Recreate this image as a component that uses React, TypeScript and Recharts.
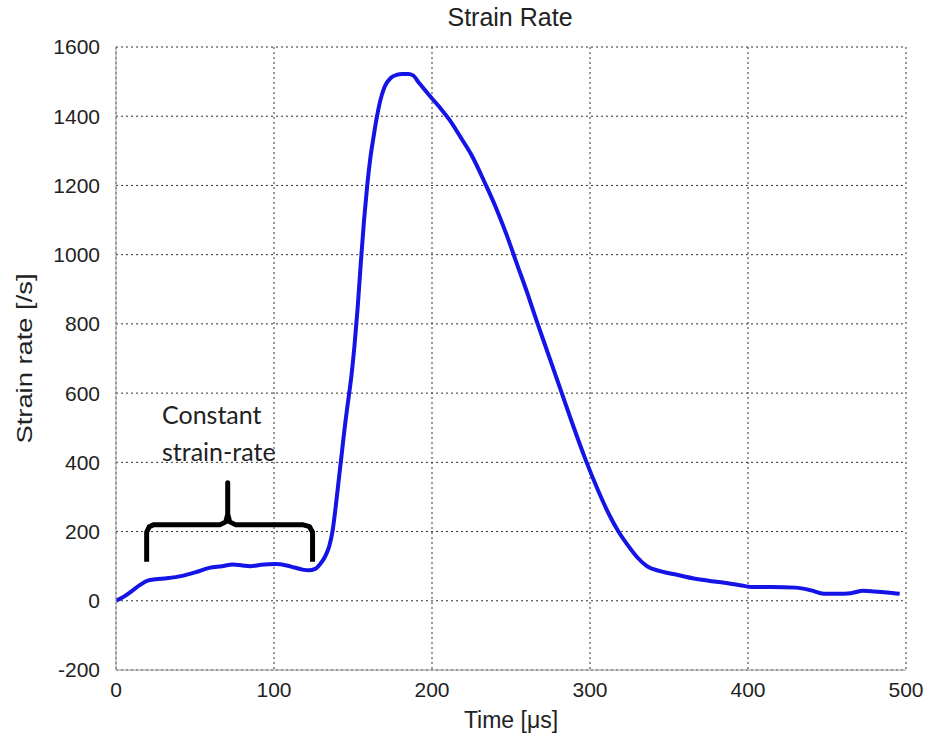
import { LineChart, Line, XAxis, YAxis, CartesianGrid, Label } from 'recharts';

// time axis in microseconds, strain rate in 1/s
const timeUs = [
  0, 5, 10, 15, 20, 25, 32, 42, 50, 59, 67, 74, 80, 85, 92, 101, 108, 113, 118, 122,
  126, 129, 132, 135, 137, 139, 141, 143, 145, 147, 149, 151, 153, 155, 157, 159, 161,
  163, 165, 167, 170, 174, 178, 181, 185, 188, 192, 198, 205, 211, 218, 225, 234, 241,
  247, 254, 261, 265, 273, 281, 289, 297, 305, 312, 318, 324, 330, 336, 345, 355, 365,
  375, 385, 395, 402, 415, 430, 440, 448, 457, 465, 473, 480, 488, 496,
];
const strainRate = [
  0, 12, 28, 45, 58, 62, 65, 72, 82, 95, 100, 105, 102, 100, 104, 106, 102, 96, 90, 88,
  92, 105, 125, 158, 200, 270, 350, 430, 510, 580, 650, 740, 850, 980, 1100, 1200, 1280,
  1340, 1395, 1440, 1485, 1511, 1520, 1522, 1522, 1518, 1495, 1462, 1425, 1390, 1340, 1288,
  1202, 1130, 1060, 970, 880, 825, 720, 615, 510, 410, 320, 250, 200, 160, 125, 100, 85,
  75, 65, 58, 52, 45, 40, 40, 38, 30, 20, 20, 22, 29, 27, 24, 20,
];

// curly brace annotation (data coordinates)
const braceX = [19.4, 19.4, 21, 24, 66, 69.5, 70.7, 70.7, 70.7, 72, 75.5, 118, 122.5, 124.4, 124.4];
const braceY = [113, 198, 214, 220, 220, 228, 250, 341, 250, 228, 220, 220, 214, 198, 113];

const xTicks = [0, 100, 200, 300, 400, 500];
const yTicks = [-200, 0, 200, 400, 600, 800, 1000, 1200, 1400, 1600];

const data = timeUs.map((t, i) => ({ t, rate: strainRate[i] }));
const brace = braceX.map((t, i) => ({ t, b: braceY[i] }));

const font = '"Liberation Sans", Arial, sans-serif';

function YLabel(props: any) {
  const vb = props.viewBox || {};
  const cy = vb.y + vb.height / 2;
  return (
    <text
      x={24}
      y={cy}
      transform={`rotate(-90, 24, ${cy})`}
      textAnchor="middle"
      dominantBaseline="central"
      fontFamily={font}
      fontSize={22}
      textLength={170}
      lengthAdjust="spacingAndGlyphs"
      fill="#222"
    >
      Strain rate [/s]
    </text>
  );
}

export default function App() {
  return (
    <div style={{ position: 'absolute', left: 0, top: 0, width: 930, height: 738, background: '#fff' }}>
      <div
        style={{
          position: 'absolute',
          top: 3,
          left: 0,
          width: 1020,
          textAlign: 'center',
          fontFamily: font,
          fontSize: 25,
          color: '#222',
        }}
      >
        Strain Rate
      </div>
      <div
        style={{
          position: 'absolute',
          left: 162,
          top: 396,
          fontFamily: 'Lato, "Open Sans", sans-serif',
          fontSize: 25,
          lineHeight: '37px',
          color: '#222',
          zIndex: 2,
        }}
      >
        Constant
        <br />
        strain-rate
      </div>
      <LineChart width={930} height={738} margin={{ top: 47, right: 24, bottom: 0, left: 0 }}>
        <CartesianGrid
          stroke="#333"
          strokeDasharray="2 3"
          horizontalValues={yTicks}
          verticalValues={xTicks}
        />
        <XAxis
          dataKey="t"
          type="number"
          domain={[0, 500]}
          ticks={xTicks}
          allowDataOverflow
          height={68}
          tickLine={false}
          stroke="#999"
          tick={{ fill: '#222', fontSize: 21, fontFamily: font }}
          tickMargin={6}
        >
          <Label
            value="Time [μs]"
            position="insideBottom"
            offset={10}
            style={{ fill: '#222', fontSize: 23, fontFamily: font }}
          />
        </XAxis>
        <YAxis
          type="number"
          domain={[-200, 1600]}
          ticks={yTicks}
          allowDataOverflow
          width={116}
          tickLine={false}
          stroke="#999"
          tick={{ fill: '#222', fontSize: 21, fontFamily: font }}
          tickMargin={10}
        >
          <Label content={<YLabel />} />
        </YAxis>
        <Line
          data={data}
          dataKey="rate"
          type="monotone"
          stroke="#1414e6"
          strokeWidth={4}
          dot={false}
          isAnimationActive={false}
        />
        <Line
          data={brace}
          dataKey="b"
          type="linear"
          stroke="#000"
          strokeWidth={5}
          strokeLinejoin="round"
          strokeLinecap="butt"
          dot={false}
          isAnimationActive={false}
        />
      </LineChart>
    </div>
  );
}
